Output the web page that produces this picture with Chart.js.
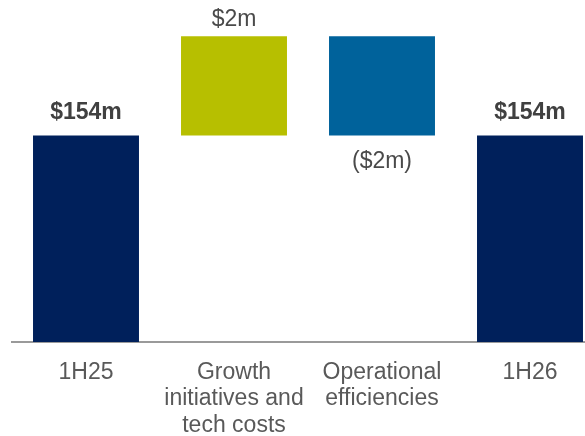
<!DOCTYPE html>
<html>
<head>
<meta charset="utf-8">
<script src="https://cdn.jsdelivr.net/npm/chart.js@4/dist/chart.umd.min.js"></script>
<style>
    html, body { margin: 0; padding: 0; background: #fff; overflow: hidden; }
    #wrap { width: 585px; height: 436px; overflow: hidden; }
</style>
</head>
<body>
<div id="wrap"><canvas id="bar" width="604" height="456"></canvas></div>
<script>
var categories = [['1H25'], ['Growth', 'initiatives and', 'tech costs'], ['Operational', 'efficiencies'], ['1H26']];
var values = [154, 2, -2, 154];              // $m, as labelled
var barStart = [0, 154, 228, 0];             // drawn span, steps are not to scale in the picture
var barEnd = [154, 228, 154, 154];
var valueLabels = ['$154m', '$2m', '($2m)', '$154m'];
var barColors = ['#00205B', '#B7BF00', '#00629B', '#00205B'];

var fontFamily = 'Arial, "Liberation Sans", sans-serif';

var spans = [];
for (var i in barStart) {
    spans.push([barStart[i], barEnd[i]]);
}

// value labels above / below each bar
var labelPlugin = {
    id: 'valueLabels',
    afterDatasetsDraw: function (chart) {
        var ctx = chart.ctx;
        var meta = chart.getDatasetMeta(0);
        ctx.save();
        ctx.textAlign = 'center';
        ctx.textBaseline = 'alphabetic';
        meta.data.forEach(function (bar, i) {
            var top = Math.min(bar.y, bar.base);
            var bottom = Math.max(bar.y, bar.base);
            var total = (i == 0 || i == categories.length - 1);
            if (total) {
                ctx.font = 'bold 23px ' + fontFamily;
                ctx.fillStyle = '#404040';
                ctx.fillText(valueLabels[i], bar.x, top - 16);
            } else if (values[i] >= 0) {
                ctx.font = '23px ' + fontFamily;
                ctx.fillStyle = '#4a4a4a';
                ctx.fillText(valueLabels[i], bar.x, top - 10);
            } else {
                ctx.font = '23px ' + fontFamily;
                ctx.fillStyle = '#4a4a4a';
                ctx.fillText(valueLabels[i], bar.x, bottom + 33);
            }
        });
        ctx.restore();
    }
};

var ctx = document.getElementById('bar');

var barGraph = new Chart(ctx, {
    type: 'bar',
    data: {
        labels: categories,
        datasets: [{
            data: spans,
            backgroundColor: barColors,
            borderWidth: 0,
            categoryPercentage: 1,
            barPercentage: 0.716
        }]
    },
    options: {
        responsive: false,
        animation: false,
        devicePixelRatio: 1,
        layout: { padding: { left: 12, right: 0, top: 0, bottom: 0 } },
        plugins: {
            legend: { display: false },
            tooltip: { enabled: false }
        },
        scales: {
            x: {
                grid: { display: false, drawTicks: false },
                border: { display: true, color: '#9a9a9a', width: 2 },
                ticks: {
                    color: '#595959',
                    padding: 17,
                    maxRotation: 0,
                    autoSkip: false,
                    font: { family: fontFamily, size: 23, lineHeight: 1.16 }
                }
            },
            y: {
                display: false,
                min: 0,
                max: 255
            }
        }
    },
    plugins: [labelPlugin]
});
</script>
</body>
</html>
